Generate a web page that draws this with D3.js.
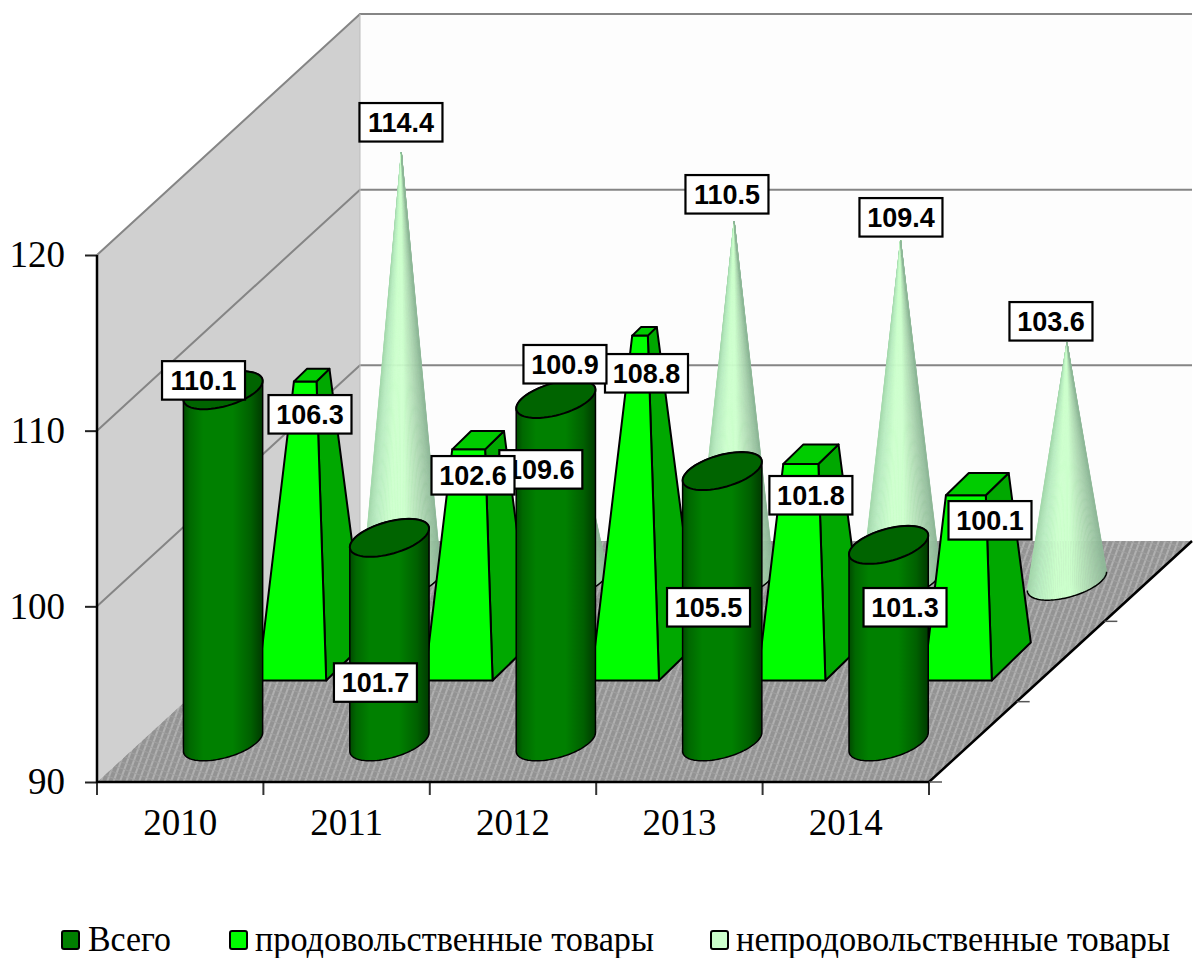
<!DOCTYPE html>
<html><head><meta charset="utf-8">
<script src="https://cdn.jsdelivr.net/npm/d3@7/dist/d3.min.js"></script>
<style>html,body{margin:0;background:#fff}svg{display:block}</style>
</head><body><svg id="c" width="1194" height="958"></svg>
<script>
const categories = ["2010","2011","2012","2013","2014"];
const seriesNames = ["Всего","продовольственные товары","непродовольственные товары"];
const total = [110.1,101.7,109.6,105.5,101.3];
const food = [106.3,102.6,108.8,101.8,100.1];
const nonFood = [114.4,100.9,110.5,109.4,103.6];
const yTicks = [90,100,110,120];
// label nudges from the top of each mark (manual placement in the original)
const totalLabelNudge = [[-19.5,-8.6],[-14,146],[-15,71.6],[-13.7,137.5],[16.4,63.7]];
const foodLabelNudge = [[-1.7,38.9],[-5.1,34.9],[2,41.8],[0,40.8],[12.7,36]];
const nonFoodLabelNudge = [[-0.4,-30.5],[-2.8,-25.7],[-7.2,-27],[0.4,-23.3],[-16,-21.2]];
const rowNudge = [-1,0,2];

const svg = d3.select("#c");
const defs = svg.append("defs");
const x = d3.scaleBand().domain(categories).range([97,929]);
const y = d3.scaleLinear().domain([90,120]).range([782,255]);
const depthX = 263, depthY = 241;
const z = d3.scaleBand().domain(seriesNames).range([0,1]);
const project = (cat,v,s)=>{
  const d = z(s)+z.bandwidth()/2;
  return [x(cat)+x.bandwidth()/2+d*depthX+rowNudge[seriesNames.indexOf(s)], y(v)-d*depthY];
};
const serif = "'Liberation Serif','Times New Roman',serif";
const sans = "'Liberation Sans',Arial,sans-serif";
const line = d3.line();
const poly = pts=>line(pts)+"Z";

// gradients
function grad(id,stops){
  const g = defs.append("linearGradient").attr("id",id).attr("x1",0).attr("x2",1).attr("y1",0).attr("y2",0);
  stops.forEach(([o,c])=>g.append("stop").attr("offset",o).attr("stop-color",c));
}
grad("cyl",[[0,"#004a00"],[.08,"#006800"],[.25,"#008000"],[.62,"#008000"],[.85,"#006000"],[1,"#003a00"]]);
const coneColor = d3.scaleLinear().domain([0,.12,.35,.55,.8,1])
  .range(["#a4d8ac","#b8ecc0","#ccffcc","#ccffcc","#aed8b2","#8fb898"]);
const pat = defs.append("pattern").attr("id","floor").attr("width",6).attr("height",6)
  .attr("patternUnits","userSpaceOnUse").attr("patternTransform","rotate(20)");
pat.append("rect").attr("width",6).attr("height",6).attr("fill","#939393");
pat.append("rect").attr("width",2).attr("height",6).attr("x",1).attr("fill","#b0b0b0");
pat.append("rect").attr("width",6).attr("height",1).attr("y",2).attr("fill","#a0a0a0");

// walls and floor
const back = ([a,b])=>[a+depthX,b-depthY];
const P = (px,v)=>[px,y(v)];
const [x0,x1] = x.range(), vMin = y.domain()[0], vMax = y.domain()[1];
svg.append("path").attr("d",poly([back(P(x0,vMin)),back(P(x1,vMin)),back(P(x1,vMax)),back(P(x0,vMax))])).attr("fill","#fdfdfd");
svg.append("path").attr("d",poly([P(x0,vMin),back(P(x0,vMin)),back(P(x0,vMax)),P(x0,vMax)])).attr("fill","#d0d0d0");
svg.append("path").attr("d",poly([P(x0,vMin),P(x1,vMin),back(P(x1,vMin)),back(P(x0,vMin))])).attr("fill","url(#floor)");
// gridlines
yTicks.filter(t=>t>vMin).forEach(t=>{
  svg.append("path").attr("d",line([P(x0,t),back(P(x0,t)),back(P(x1,t))]))
    .attr("fill","none").attr("stroke","#858585").attr("stroke-width",2);
});
svg.append("path").attr("d",line([back(P(x0,vMin)),back(P(x0,vMax))])).attr("stroke","#bdbdbd").attr("stroke-width",1);

// axes
const yAxis = d3.axisLeft(y).tickValues(yTicks).tickSize(12).tickPadding(20);
const gy = svg.append("g").attr("transform",`translate(${x0},0)`).call(yAxis);
gy.select(".domain").remove();
gy.selectAll("line").attr("stroke","#222").attr("stroke-width",2);
gy.selectAll("text").attr("font-family",serif).attr("font-size",37).attr("fill","#000");
const xAxis = d3.axisBottom(x).tickSize(0).tickPadding(27);
const gx = svg.append("g").attr("transform",`translate(0,${y(vMin)})`).call(xAxis);
gx.select(".domain").remove();
gx.selectAll("text").attr("font-family",serif).attr("font-size",37).attr("fill","#000");
const bounds = categories.map(c=>x(c)).concat([x1]);
svg.selectAll(".xt").data(bounds).join("line").attr("x1",d=>d).attr("x2",d=>d)
  .attr("y1",y(vMin)).attr("y2",y(vMin)+13).attr("stroke","#333").attr("stroke-width",2);
svg.append("path").attr("d",line([P(x0,vMax),P(x0,vMin),P(x1,vMin),back(P(x1,vMin))]))
  .attr("fill","none").attr("stroke","#000").attr("stroke-width",2.5);
seriesNames.forEach(s=>{
  const d = z(s);
  svg.append("line").attr("x1",x1+d*depthX).attr("x2",x1+d*depthX+13)
    .attr("y1",y(vMin)-d*depthY).attr("y2",y(vMin)-d*depthY).attr("stroke","#555").attr("stroke-width",1.5);
});

// shape footprint
const rx = 34.5, ox = 19.5, oy = 19;
const t0 = Math.atan2(ox,rx);
const ell = (cx,cy,t)=>[cx+rx*Math.cos(t)+ox*Math.sin(t), cy-oy*Math.sin(t)];
const arc = (cx,cy,a,b)=>d3.range(0,61).map(i=>ell(cx,cy,a+(b-a)*i/60));

// cones: shading fans out from the tip
nonFood.forEach((v,i)=>{
  const [cx,cy] = project(categories[i],vMin,seriesNames[2]);
  const [tx,ty] = project(categories[i],v,seriesNames[2]);
  const bottom = arc(cx,cy,t0+Math.PI,t0+2*Math.PI);
  const L = bottom[0][0], R = bottom[bottom.length-1][0];
  d3.pairs(bottom).forEach(([a,b])=>{
    const c = coneColor(((a[0]+b[0])/2-L)/(R-L));
    svg.append("path").attr("d",poly([[tx,ty],a,b])).attr("fill",c).attr("stroke",c).attr("stroke-width",.5);
  });
  svg.append("path").attr("d",line(bottom)).attr("fill","none").attr("stroke","#000").attr("stroke-width",1.5);
});

// truncated pyramids
const apex = d3.max([...total,...food,...nonFood]);
food.forEach((v,i)=>{
  const [cx,cy] = project(categories[i],vMin,seriesNames[1]);
  const [tx,ty] = project(categories[i],v,seriesNames[1]);
  const f = (apex-v)/(apex-vMin);
  const w = rx-.5;
  const bfl=[cx-ox-w,cy+oy], bfr=[cx-ox+w,cy+oy], bbr=[cx+ox+w,cy-oy];
  const tfl=[tx-(ox+w)*f,ty+oy*f], tfr=[tx+(w-ox)*f,ty+oy*f], tbr=[tx+(ox+w)*f,ty-oy*f], tbl=[tx+(ox-w)*f,ty-oy*f];
  const st = s=>s.attr("stroke","#000").attr("stroke-width",2).attr("stroke-linejoin","round");
  st(svg.append("path").attr("d",poly([bfr,bbr,tbr,tfr])).attr("fill","#00a800"));
  st(svg.append("path").attr("d",poly([bfl,bfr,tfr,tfl])).attr("fill","#00ff00"));
  st(svg.append("path").attr("d",poly([tfl,tfr,tbr,tbl])).attr("fill","#00cc00"));
});

// cylinders
total.forEach((v,i)=>{
  const [cx,cy] = project(categories[i],vMin,seriesNames[0]);
  const [tx,ty] = project(categories[i],v,seriesNames[0]);
  const bottom = arc(cx,cy,t0+Math.PI,t0+2*Math.PI);
  const top = arc(tx,ty+1.5,t0,t0+Math.PI);
  svg.append("path").attr("d",poly([...bottom,...top])).attr("fill","url(#cyl)")
    .attr("stroke","#000").attr("stroke-width",1.5);
  svg.append("path").attr("d",poly(arc(tx,ty+1.5,0,2*Math.PI))).attr("fill","#006400")
    .attr("stroke","#000").attr("stroke-width",2);
});

// data labels
const fmt = d3.format(".1f");
[[total,totalLabelNudge,0],[food,foodLabelNudge,1],[nonFood,nonFoodLabelNudge,2]].forEach(([vals,nudge,k])=>{
  vals.forEach((v,i)=>{
    const [px,py] = project(categories[i],v,seriesNames[k]);
    const g = svg.append("g").attr("transform",`translate(${px+nudge[i][0]},${py+nudge[i][1]})`);
    g.append("rect").attr("x",-41.5).attr("y",-19).attr("width",83).attr("height",38.5)
      .attr("fill","#fff").attr("stroke","#000").attr("stroke-width",2.2);
    g.append("text").attr("text-anchor","middle").attr("y",10).attr("font-family",sans)
      .attr("font-weight","bold").attr("font-size",27).attr("fill","#000").text(fmt(v));
  });
});

// legend
const legendColors = ["#008000","#00ff00","#ccffcc"];
const legendSwatchX = [62,230,711];
const legendTextX = [88,255,736];
const legendTextW = [83,399,434];
seriesNames.forEach((s,i)=>{
  svg.append("rect").attr("x",legendSwatchX[i]).attr("y",931).attr("width",17).attr("height",18).attr("rx",2)
    .attr("fill",legendColors[i]).attr("stroke","#000").attr("stroke-width",2);
  svg.append("text").attr("x",legendTextX[i]).attr("y",951).attr("font-family",serif).attr("font-size",35)
    .attr("textLength",legendTextW[i]).attr("lengthAdjust","spacingAndGlyphs").attr("fill","#000").text(s);
});
</script></body></html>
